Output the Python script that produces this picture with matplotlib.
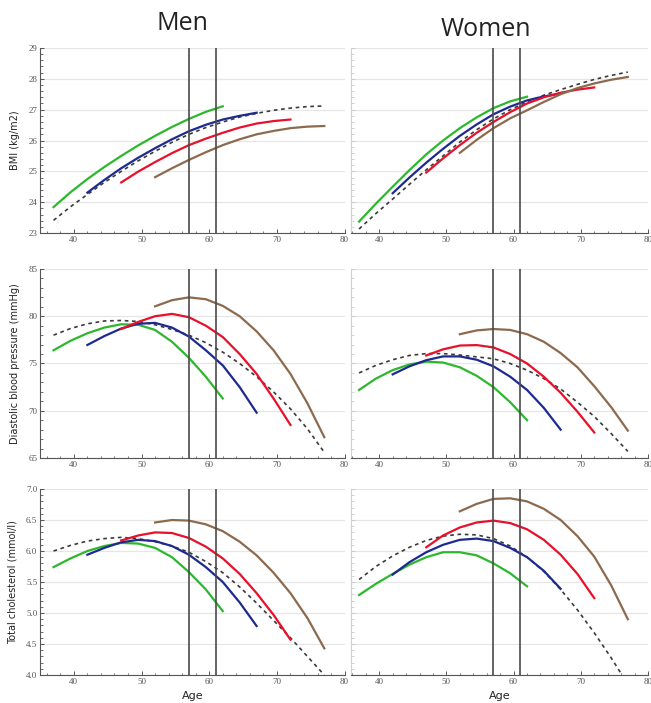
import matplotlib
matplotlib.use("Agg")
import matplotlib.pyplot as plt
from matplotlib.ticker import MultipleLocator

# ---------------- data ----------------
AGE_GREEN = [37, 39.5, 42, 44.5, 47, 49.5, 52, 54.5, 57, 59.5, 62]
AGE_BLUE = [42, 44.5, 47, 49.5, 52, 54.5, 57, 59.5, 62, 64.5, 67]
AGE_RED = [47, 49.5, 52, 54.5, 57, 59.5, 62, 64.5, 67, 69.5, 72]
AGE_BROWN = [52, 54.5, 57, 59.5, 62, 64.5, 67, 69.5, 72, 74.5, 77]
AGE_ALL = [37, 39.5, 42, 44.5, 47, 49.5, 52, 54.5, 57, 59.5, 62, 64.5, 67, 69.5, 72, 74.5, 77]

# Men BMI
men_bmi_green = [23.84, 24.32, 24.75, 25.14, 25.5, 25.84, 26.15, 26.44, 26.7, 26.93, 27.11]
men_bmi_blue = [24.31, 24.72, 25.1, 25.44, 25.75, 26.04, 26.3, 26.51, 26.68, 26.8, 26.9]
men_bmi_red = [24.64, 24.99, 25.3, 25.59, 25.85, 26.06, 26.25, 26.42, 26.55, 26.63, 26.68]
men_bmi_brown = [24.81, 25.1, 25.37, 25.62, 25.85, 26.04, 26.2, 26.31, 26.4, 26.45, 26.47]
men_bmi_all = [23.41, 23.85, 24.25, 24.64, 25.0, 25.34, 25.65, 25.94, 26.2, 26.42, 26.6,
               26.76, 26.88, 26.98, 27.05, 27.1, 27.12]
# Women BMI
women_bmi_green = [23.37, 23.95, 24.5, 25.04, 25.55, 26.0, 26.4, 26.75, 27.05, 27.27, 27.42]
women_bmi_blue = [24.29, 24.8, 25.28, 25.73, 26.15, 26.52, 26.85, 27.1, 27.3, 27.43, 27.52]
women_bmi_red = [24.96, 25.42, 25.85, 26.25, 26.6, 26.92, 27.2, 27.4, 27.55, 27.65, 27.72]
women_bmi_brown = [25.6, 26.02, 26.4, 26.72, 26.98, 27.25, 27.5, 27.7, 27.85, 27.97, 28.06]
women_bmi_all = [23.13, 23.63, 24.1, 24.58, 25.05, 25.5, 25.95, 26.35, 26.7, 27.0, 27.25,
                 27.47, 27.65, 27.82, 27.98, 28.11, 28.22]

# Men diastolic blood pressure
men_dbp_green = [76.4, 77.4, 78.2, 78.8, 79.15, 79.1, 78.55, 77.3, 75.6, 73.6, 71.3]
men_dbp_blue = [76.96, 77.9, 78.7, 79.2, 79.3, 78.8, 77.85, 76.4, 74.8, 72.5, 69.8]
men_dbp_red = [78.65, 79.4, 80.0, 80.25, 79.9, 79.0, 77.8, 76.0, 73.9, 71.3, 68.5]
men_dbp_brown = [81.05, 81.7, 82.0, 81.8, 81.1, 80.0, 78.4, 76.4, 73.9, 70.8, 67.2]
men_dbp_all = [78.0, 78.7, 79.2, 79.5, 79.55, 79.45, 79.1, 78.6, 78.0, 77.2, 76.2,
               75.0, 73.6, 72.0, 70.2, 68.1, 65.6]
# Women diastolic blood pressure
women_dbp_green = [72.2, 73.4, 74.3, 74.9, 75.2, 75.1, 74.6, 73.7, 72.5, 70.9, 69.0]
women_dbp_blue = [73.85, 74.7, 75.35, 75.75, 75.75, 75.4, 74.7, 73.6, 72.2, 70.3, 68.0]
women_dbp_red = [75.85, 76.5, 76.9, 76.95, 76.7, 76.0, 75.0, 73.6, 71.9, 69.9, 67.7]
women_dbp_brown = [78.1, 78.5, 78.65, 78.55, 78.1, 77.3, 76.1, 74.6, 72.6, 70.4, 67.9]
women_dbp_all = [74.0, 74.8, 75.4, 75.85, 76.05, 76.05, 75.9, 75.7, 75.5, 75.0, 74.3,
                 73.4, 72.3, 70.9, 69.4, 67.6, 65.7]

# Men total cholesterol
men_chol_green = [5.74, 5.88, 6.0, 6.08, 6.13, 6.12, 6.05, 5.9, 5.66, 5.38, 5.03]
men_chol_blue = [5.94, 6.05, 6.14, 6.18, 6.16, 6.08, 5.94, 5.74, 5.5, 5.17, 4.79]
men_chol_red = [6.17, 6.25, 6.3, 6.29, 6.21, 6.07, 5.88, 5.63, 5.32, 4.97, 4.57]
men_chol_brown = [6.46, 6.5, 6.49, 6.43, 6.32, 6.15, 5.93, 5.65, 5.32, 4.92, 4.43]
men_chol_all = [6.0, 6.09, 6.16, 6.2, 6.22, 6.2, 6.15, 6.08, 5.98, 5.83, 5.65,
                5.42, 5.16, 4.88, 4.6, 4.3, 4.0]
# Women total cholesterol
women_chol_green = [5.29, 5.47, 5.63, 5.78, 5.9, 5.98, 5.98, 5.93, 5.8, 5.64, 5.43]
women_chol_blue = [5.62, 5.82, 5.98, 6.1, 6.18, 6.2, 6.16, 6.05, 5.9, 5.68, 5.39]
women_chol_red = [6.06, 6.25, 6.38, 6.46, 6.49, 6.45, 6.35, 6.18, 5.94, 5.63, 5.24]
women_chol_brown = [6.64, 6.76, 6.84, 6.85, 6.8, 6.68, 6.5, 6.24, 5.91, 5.45, 4.9]
women_chol_all = [5.54, 5.75, 5.92, 6.06, 6.17, 6.24, 6.27, 6.26, 6.2, 6.08, 5.9,
                  5.67, 5.38, 5.05, 4.68, 4.28, 3.85]

VLINES = [57, 61]
Y_LABELS = ["BMI (kg/m2)", "Diastolic blood pressure (mmHg)", "Total cholesterol (mmol/l)"]
COL_TITLES = ["Men", "Women"]

# ---------------- styling ----------------
C_GREEN = "#2cb82c"
C_BLUE = "#1d2a8f"
C_RED = "#e8102a"
C_BROWN = "#8c6a4e"
C_DASH = "#3a3a3a"

W, H = 651, 703
fig = plt.figure(figsize=(W / 100, H / 100), dpi=100)
fig.patch.set_facecolor("white")

def fx(px):
    return px / W

def fy(py):
    return 1 - py / H

col_px = [(40, 344.6, (35, 80)), (351, 648, (35.8, 80))]
row_px = [(48, 233, (23, 29), 1, 0.2),
          (269, 458, (65, 85), 5, 1),
          (489, 675, (4.0, 7.0), 0.5, 0.1)]

panels = [
    [(men_bmi_green, men_bmi_blue, men_bmi_red, men_bmi_brown, men_bmi_all),
     (women_bmi_green, women_bmi_blue, women_bmi_red, women_bmi_brown, women_bmi_all)],
    [(men_dbp_green, men_dbp_blue, men_dbp_red, men_dbp_brown, men_dbp_all),
     (women_dbp_green, women_dbp_blue, women_dbp_red, women_dbp_brown, women_dbp_all)],
    [(men_chol_green, men_chol_blue, men_chol_red, men_chol_brown, men_chol_all),
     (women_chol_green, women_chol_blue, women_chol_red, women_chol_brown, women_chol_all)],
]

tick_font = dict(family="Liberation Serif", size=6.5, color="#555555")

for r, (top, bot, ylim, major, minor) in enumerate(row_px):
    for c, (left, right, xlim) in enumerate(col_px):
        ax = fig.add_axes([fx(left), fy(bot), fx(right - left), (bot - top) / H])
        ax.set_xlim(*xlim)
        ax.set_ylim(*ylim)
        g, b, rd, br, al = panels[r][c]
        ax.plot(AGE_ALL, al, color=C_DASH, lw=1.2, dashes=(2.2, 2.2), zorder=3, clip_on=True)
        ax.plot(AGE_GREEN, g, color=C_GREEN, lw=1.6, zorder=4)
        ax.plot(AGE_BLUE, b, color=C_BLUE, lw=1.6, zorder=4)
        ax.plot(AGE_RED, rd, color=C_RED, lw=1.6, zorder=4)
        ax.plot(AGE_BROWN, br, color=C_BROWN, lw=1.6, zorder=4)
        for v in VLINES:
            ax.axvline(v, color="#4a4a4a", lw=1.2, zorder=5)
        ax.yaxis.set_major_locator(MultipleLocator(major))
        ax.yaxis.set_minor_locator(MultipleLocator(minor))
        ax.xaxis.set_major_locator(MultipleLocator(10))
        ax.xaxis.set_minor_locator(MultipleLocator(2))
        ax.grid(axis="y", which="major", color="#e6e6e6", lw=0.9, zorder=0)
        for s in ("top", "right"):
            ax.spines[s].set_visible(False)
        ax.spines["bottom"].set_color("#555555")
        ax.spines["left"].set_color("#555555" if c == 0 else "#d0d0d0")
        ax.spines["bottom"].set_linewidth(0.8)
        ax.spines["left"].set_linewidth(0.8)
        ax.tick_params(which="both", direction="in", colors="#555555", pad=2)
        ax.tick_params(which="major", length=3, width=0.7)
        ax.tick_params(which="minor", length=1.8, width=0.6)
        if c == 1:
            ax.tick_params(axis="y", which="both", colors="#cccccc", labelleft=False)
        ax.set_xticks([40, 50, 60, 70, 80])
        ax.set_xticklabels(["40", "50", "60", "70", "80"], fontdict=tick_font)
        if c == 0:
            if r == 2:
                ax.set_yticks([4.0, 4.5, 5.0, 5.5, 6.0, 6.5, 7.0])
                ax.set_yticklabels([f"{v:.1f}" for v in [4.0, 4.5, 5.0, 5.5, 6.0, 6.5, 7.0]], fontdict=tick_font)
            else:
                ticks = list(ax.get_yticks())
                ticks = [t for t in ticks if ylim[0] - 1e-9 <= t <= ylim[1] + 1e-9]
                ax.set_yticks(ticks)
                ax.set_yticklabels([f"{int(round(t))}" for t in ticks], fontdict=tick_font)
            ax.set_ylabel(Y_LABELS[r], fontsize=7, family="DejaVu Sans", color="#222222", labelpad=6)
        if r == 2:
            ax.set_xlabel("Age", fontsize=8, family="DejaVu Sans", color="#222222", labelpad=4)
        ax.set_facecolor("white")

fig.text(fx(182), fy(23), COL_TITLES[0], fontsize=18, family="Open Sans", ha="center", va="center", color="#222222")
fig.text(fx(486), fy(29), COL_TITLES[1], fontsize=18, family="Open Sans", ha="center", va="center", color="#222222")

fig.savefig("out.png", dpi=100, facecolor="white")
